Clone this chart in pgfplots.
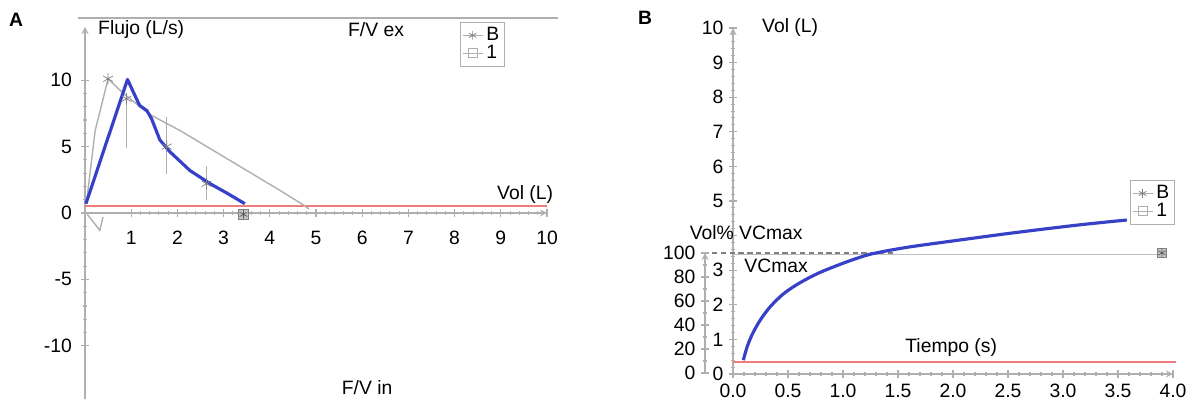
\documentclass[border=0pt]{standalone}
\usepackage{fontspec}
\setmainfont{Liberation Sans}
\usepackage{pgfplots}
\pgfplotsset{compat=1.18}
\definecolor{curveblue}{RGB}{55,65,200}
\definecolor{refred}{RGB}{240,125,125}
\definecolor{refgray}{RGB}{175,175,175}
\definecolor{axgray}{RGB}{175,175,175}
\newcommand{\fs}{\fontsize{11}{13}\selectfont}

\pgfplotsset{
  spiro/.style={
    scale only axis, clip=false,
    axis line style={draw=axgray, line width=0.8pt, -},
    tick style={draw=axgray, line width=0.6pt},
    major tick length=4pt, minor tick length=2.5pt,
    tick align=center,
    /pgf/number format/assume math mode=true,
    tick label style={font=\fs},
    legend cell align=left,
    legend image code/.code={\draw[mark repeat=2,mark phase=2,##1] plot coordinates {(0cm,0cm) (0.2cm,0cm) (0.4cm,0cm)};},
    legend style={draw=axgray, font=\fs, inner sep=1pt, row sep=-3pt, anchor=north west},
  }
}

\begin{document}
\begin{tikzpicture}[font=\fs]
\path[use as bounding box] (0,0) rectangle (23.78,8.18);

% ---- panel A: flujo / volumen ----
\begin{axis}[spiro,
  at={(1.70cm,0.20cm)}, anchor=south west,
  width=9.24cm, height=7.44cm,
  xmin=0, xmax=10, ymin=-14, ymax=14,
  axis lines=middle,
  hide obscured y ticks=false,
  xtick={1,2,3,4,5,6,7,8,9,10},
  xticklabels={1,2,3,4,5,6,7,8,9,10},
  ytick={-10,-5,0,5,10},
  yticklabels={-10,-5,0,5,10},
  minor x tick num=4, minor y tick num=4,
  xticklabel style={yshift=-5pt},
  yticklabel style={xshift=-2pt},
  legend style={at={(axis cs:8.12,14.4)}},
]
\addplot[refred, line width=1pt, forget plot] coordinates {(0,0.5) (10,0.5)};
\addplot[refgray, line width=0.8pt, forget plot] coordinates {
  (0.04,1.0) (0.22,6.2) (0.5,10.1) (0.83,9.0) (1.41,7.4) (2.06,6.2)
  (2.78,4.7) (3.5,3.2) (4.22,1.7) (4.73,0.6) (4.85,0.3)};
\addplot[refgray, line width=0.8pt, forget plot] coordinates {(0.05,-0.1) (0.32,-1.3) (0.39,-0.3)};
\addplot[gray, only marks, mark=asterisk, mark size=3.2pt, forget plot,
  error bars/.cd, y dir=both, y explicit,
  error bar style={refgray, line width=0.8pt}, error mark=none]
  coordinates {
  (0.5,10.1)
  (0.9,8.6) -= (0,3.7)
  (1.77,5.0) += (0,2.2) -= (0,2.1)
  (2.63,2.2) += (0,1.3) -= (0,1.2)};
\addplot[only marks, mark=square*, mark size=3pt, draw=gray, fill=gray!45, forget plot] coordinates {(3.43,-0.1)};
\addplot[only marks, mark=asterisk, mark size=2.5pt, gray!70!black, forget plot] coordinates {(3.43,-0.1)};
\addplot[curveblue, line width=1.8pt, line join=round, forget plot] coordinates {
  (0.02,0.7) (0.92,10.05) (1.18,8.1) (1.34,7.7) (1.44,7.1) (1.62,5.5)
  (1.84,4.6) (2.27,3.2) (2.71,2.2) (3.07,1.5) (3.46,0.7)};
\addlegendimage{refgray, mark=asterisk, mark size=2.5pt, mark options={gray}}
\addlegendentry{B}
\addlegendimage{refgray, mark=square, mark size=2.5pt}
\addlegendentry{1}
\end{axis}

% ---- panel B: volumen / tiempo ----
\begin{axis}[spiro,
  at={(14.66cm,0.70cm)}, anchor=south west,
  width=8.8cm, height=6.92cm,
  xmin=0, xmax=4, ymin=0, ymax=10,
  axis x line=bottom, axis y line=left,
  xtick={0,0.5,1,1.5,2,2.5,3,3.5,4},
  xticklabels={0.0,0.5,1.0,1.5,2.0,2.5,3.0,3.5,4.0},
  ytick={0,1,2,3,4,5,6,7,8,9,10},
  yticklabels={0,1,2,3,,5,6,7,8,9,10},
  minor x tick num=4, minor y tick num=4,
  legend style={at={(axis cs:3.61,5.61)}},
]
\addplot[refred, line width=1pt, forget plot] coordinates {(0,0.35) (4.03,0.35)};
\addplot[refgray!80, line width=0.8pt, forget plot] coordinates {(0,3.46) (3.9,3.46)};
\addplot[gray, line width=0.7pt, dash pattern=on 3pt off 2pt, forget plot] coordinates {(-0.27,3.5) (1.45,3.5)};
\addplot[only marks, mark=square*, mark size=2.5pt, draw=gray, fill=gray!45, forget plot] coordinates {(3.9,3.5)};
\addplot[only marks, mark=asterisk, mark size=2.5pt, gray!70!black, forget plot] coordinates {(3.9,3.5)};
\addplot[curveblue, line width=1.8pt, smooth, forget plot] coordinates {
  (0.094,0.40) (0.13,0.80) (0.18,1.18) (0.25,1.57) (0.34,1.95) (0.46,2.32)
  (0.60,2.62) (0.78,2.92) (1.00,3.20) (1.20,3.42) (1.35,3.53) (1.60,3.67)
  (1.94,3.82) (2.55,4.08) (3.15,4.31) (3.58,4.45)};
\addlegendimage{refgray, mark=asterisk, mark size=2.5pt, mark options={gray}}
\addlegendentry{B}
\addlegendimage{refgray, mark=square, mark size=2.5pt}
\addlegendentry{1}
\end{axis}

% ---- panel B: escala en % de VCmax ----
\begin{axis}[spiro,
  at={(14.10cm,0.72cm)}, anchor=south west,
  width=0.3cm, height=2.4cm,
  xmin=0, xmax=1, ymin=0, ymax=100,
  axis y line=left, axis x line=none,
  xtick=\empty,
  ytick={0,20,40,60,80,100},
  yticklabels={0,20,40,60,80,100},
  minor y tick num=1,
]
\end{axis}

% ---- textos ----
\begin{scope}[x=0.02cm, y=-0.02cm, yshift=8.18cm]
\draw[axgray, line width=0.8pt] (78,18) -- (558,18);
\node[font=\fs\bfseries] at (16,20) {A};
\node[anchor=west] at (92,30) {Flujo (L/s)};
\node at (376,30) {F/V ex};
\node at (525,194) {Vol (L)};
\node at (367,388) {F/V in};
\node[font=\fs\bfseries] at (645,18) {B};
\node at (790,28) {Vol (L)};
\node at (746,233) {Vol\% VCmax};
\node at (776,266) {VCmax};
\node at (951,347) {Tiempo (s)};
\end{scope}
\end{tikzpicture}
\end{document}
